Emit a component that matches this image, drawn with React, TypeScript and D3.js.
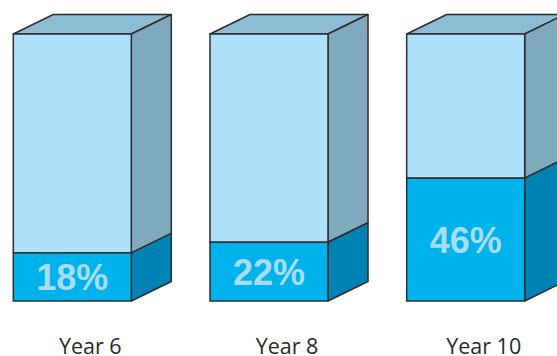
import React from "react";
import * as d3 from "d3";

const categories = ["Year 6", "Year 8", "Year 10"];
const values = [18, 22, 46];
const valueLabels = ["18%", "22%", "46%"];

const W = 557;
const H = 356;
const DX = 40;
const DY = 19.5;

export default function App() {
  const x = d3
    .scaleBand<string>()
    .domain(categories)
    .range([13.3, 524.7])
    .paddingInner(0.4)
    .paddingOuter(0);
  const y = d3.scaleLinear().domain([0, 100]).range([301, 34]);
  const bw = x.bandwidth();
  const stroke = "#2e2e2e";
  const sw = 1.5;

  return (
    <svg
      width={W}
      height={H}
      style={{ position: "absolute", left: 0, top: 0, display: "block" }}
    >
      {categories.map((c, i) => {
        const x0 = x(c)!;
        const x1 = x0 + bw;
        const yTop = y(100);
        const yBot = y(0);
        const ySplit = y(values[i]);
        const pts = (arr: [number, number][]) => arr.map((p) => p.join(",")).join(" ");
        return (
          <g key={c}>
            <polygon
              points={pts([
                [x0, yTop],
                [x1, yTop],
                [x1 + DX, yTop - DY],
                [x0 + DX, yTop - DY],
              ])}
              fill="#8cbdd4"
              stroke={stroke}
              strokeWidth={sw}
              strokeLinejoin="round"
            />
            <polygon
              points={pts([
                [x1, yTop],
                [x1 + DX, yTop - DY],
                [x1 + DX, ySplit - DY],
                [x1, ySplit],
              ])}
              fill="#7fa9bd"
              stroke={stroke}
              strokeWidth={sw}
              strokeLinejoin="round"
            />
            <polygon
              points={pts([
                [x1, ySplit],
                [x1 + DX, ySplit - DY],
                [x1 + DX, yBot - DY],
                [x1, yBot],
              ])}
              fill="#0083b4"
              stroke={stroke}
              strokeWidth={sw}
              strokeLinejoin="round"
            />
            <rect
              x={x0}
              y={yTop}
              width={bw}
              height={ySplit - yTop}
              fill="#ade0fa"
              stroke={stroke}
              strokeWidth={sw}
            />
            <rect
              x={x0}
              y={ySplit}
              width={bw}
              height={yBot - ySplit}
              fill="#00b2ec"
              stroke={stroke}
              strokeWidth={sw}
            />
            <text
              x={x0 + bw / 2}
              y={(ySplit + yBot) / 2}
              dy="0.36em"
              textAnchor="middle"
              fontFamily="'Liberation Sans', Arial, sans-serif"
              fontWeight="bold"
              fontSize={36}
              fill="#a9dcf6"
            >
              {valueLabels[i]}
            </text>
            <text
              x={x0 + bw / 2 + 18}
              y={354}
              textAnchor="middle"
              fontFamily="'Open Sans', sans-serif"
              fontSize={21.5}
              fill="#2a2a2a"
            >
              {c}
            </text>
          </g>
        );
      })}
    </svg>
  );
}
